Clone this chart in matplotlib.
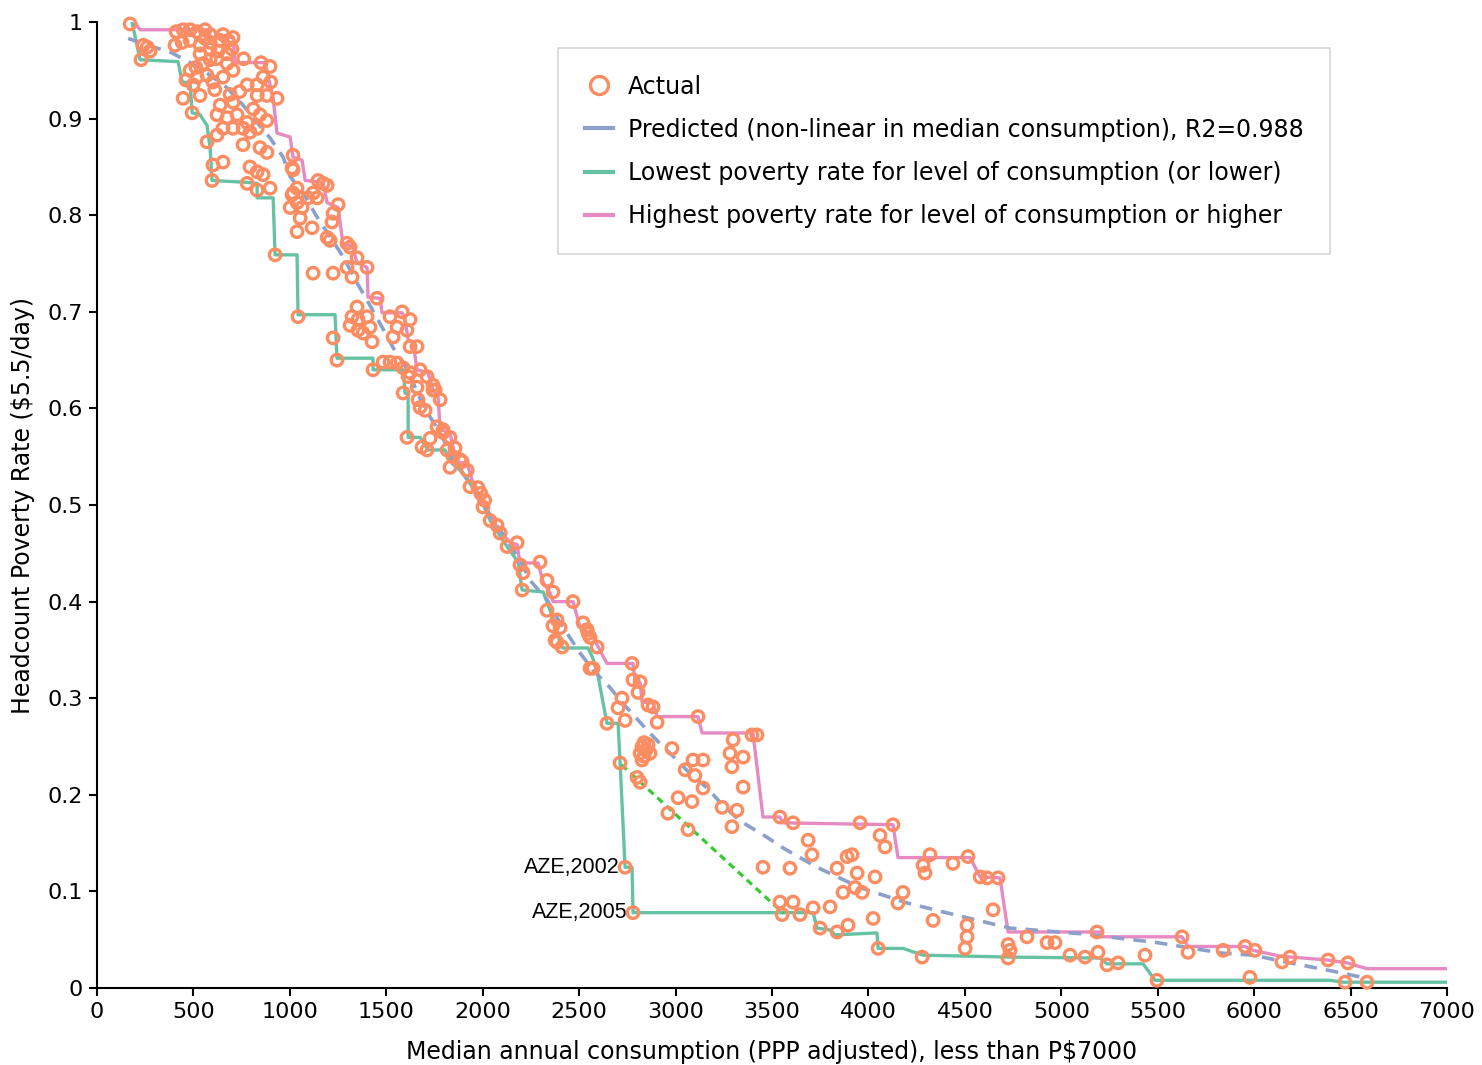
import matplotlib
matplotlib.use('Agg')
import matplotlib.pyplot as plt
from matplotlib.lines import Line2D

plt.rcParams['font.family'] = ['DejaVu Sans']

# actual observations (median consumption, headcount poverty rate)
actual_x = [171, 228, 239, 260, 275,
            410, 446, 482, 519, 560, 586, 653, 705,
            404, 441, 482, 534, 586, 638, 680,
            534, 586, 627, 674, 586, 550, 513, 482,
            850, 897,
            674, 705, 653, 601, 570, 519, 498, 534, 446, 461, 493,
            778, 830, 861, 881, 830, 933,
            638, 622, 705, 674, 726, 653, 705, 757, 778, 793, 830, 845,
            622, 570, 757, 845, 881, 601,
            653, 793, 830, 861,
            596, 778, 830, 897,
            1011, 1016, 1037, 1011, 1037, 1063, 1094,
            1016, 1016, 1001, 1053, 1037, 1115, 1120, 1141, 1172, 1193, 1146, 1224,
            1250, 1218, 1193, 1208, 1296, 1312, 1348, 1296, 1400, 1120, 1224, 1322,
            1452, 1348, 1322, 1312, 1353, 1353, 1400, 1415, 1426, 1379, 1519, 1582,
            1623, 1556, 1607, 1535, 1623, 1659,
            923, 1042, 1224, 1244, 1431, 1483, 1519, 1556, 1587, 1623, 1675, 1711,
            1742, 1659,
            1613, 1587, 1664, 1675, 1701, 1742, 1779, 1607, 1685, 1727, 1794, 1830,
            1815, 1846, 1882, 1830, 1919, 1934, 1975,
            1753, 1763, 1794, 1711, 1856, 1893, 1990, 2010,
            2001, 2038, 2074, 2090, 2126, 2178, 2193, 2209, 2297, 2333, 2364, 2204,
            2333, 2385, 2401, 2375, 2411, 2468, 2520, 2541, 2556, 2593, 2572,
            2364, 2385, 2546, 2556,
            2774, 2779, 2816, 2805, 2857, 2883, 2904, 3116, 2722, 2701, 2738, 2644,
            2816, 2826, 2836, 2846, 2857, 2867, 2836, 2826,
            2981, 3090, 3142, 3049, 3100, 3142, 2712, 2800, 2816, 3013, 3085, 2960,
            3064, 3241, 3318, 3292, 3298, 3282, 3350, 3292, 3350, 3396, 3422,
            2738, 2779,
            3541, 3609, 3687, 3707, 3453, 3593, 3837, 3889, 3868, 3801, 3713, 3609,
            3541, 3552, 3645, 3749, 3837, 3894,
            3915, 3941, 4034, 3930, 3967, 4024, 4050, 3956, 4060, 4086, 4127, 4153,
            4179, 4278, 4319, 4283, 4293, 4438, 4516, 4511, 4511, 4501, 4335, 4579,
            4615, 4672, 4646, 4724, 4734, 4724, 4822, 4926, 4967, 5045, 5123, 5185,
            5190,
            5237, 5294, 5434, 5496, 5626, 5657, 5839, 5953, 6004, 5978, 6144, 6186,
            6383, 6486, 6471, 6585,
            620, 700, 760, 900, 560, 610, 740, 810, 690, 880]
actual_y = [0.998, 0.961, 0.976, 0.974, 0.970,
            0.990, 0.992, 0.992, 0.990, 0.992, 0.987, 0.987, 0.984,
            0.976, 0.979, 0.981, 0.976, 0.979, 0.981, 0.981,
            0.967, 0.972, 0.970, 0.967, 0.961, 0.957, 0.953, 0.950,
            0.958, 0.954,
            0.957, 0.950, 0.943, 0.938, 0.945, 0.943, 0.935, 0.924, 0.921, 0.940, 0.906,
            0.935, 0.935, 0.943, 0.924, 0.924, 0.921,
            0.914, 0.904, 0.917, 0.901, 0.904, 0.890, 0.890, 0.890, 0.896, 0.886, 0.890, 0.904,
            0.883, 0.876, 0.873, 0.870, 0.865, 0.852,
            0.855, 0.850, 0.845, 0.842,
            0.836, 0.833, 0.826, 0.828,
            0.849, 0.862, 0.828, 0.821, 0.813, 0.808, 0.818,
            0.847, 0.823, 0.808, 0.797, 0.783, 0.787, 0.823, 0.818, 0.833, 0.831, 0.836, 0.802,
            0.811, 0.793, 0.777, 0.774, 0.771, 0.767, 0.756, 0.746, 0.746, 0.740, 0.740, 0.736,
            0.714, 0.705, 0.695, 0.686, 0.681, 0.692, 0.695, 0.684, 0.669, 0.678, 0.695, 0.700,
            0.692, 0.684, 0.681, 0.674, 0.664, 0.664,
            0.759, 0.695, 0.673, 0.650, 0.640, 0.648, 0.648, 0.647, 0.642, 0.637, 0.640, 0.633,
            0.624, 0.622,
            0.633, 0.616, 0.609, 0.601, 0.598, 0.619, 0.609, 0.570, 0.560, 0.569, 0.575, 0.570,
            0.557, 0.550, 0.547, 0.539, 0.536, 0.519, 0.518,
            0.619, 0.581, 0.578, 0.557, 0.559, 0.545, 0.512, 0.505,
            0.498, 0.484, 0.479, 0.471, 0.457, 0.461, 0.438, 0.430, 0.441, 0.422, 0.410, 0.412,
            0.391, 0.381, 0.373, 0.360, 0.353, 0.400, 0.378, 0.371, 0.363, 0.353, 0.331,
            0.375, 0.358, 0.367, 0.331,
            0.336, 0.319, 0.317, 0.306, 0.293, 0.291, 0.275, 0.281, 0.300, 0.290, 0.277, 0.274,
            0.243, 0.250, 0.254, 0.246, 0.252, 0.243, 0.240, 0.236,
            0.248, 0.236, 0.236, 0.226, 0.220, 0.207, 0.233, 0.218, 0.213, 0.197, 0.193, 0.181,
            0.164, 0.187, 0.184, 0.167, 0.257, 0.243, 0.239, 0.229, 0.208, 0.262, 0.262,
            0.125, 0.078,
            0.177, 0.171, 0.153, 0.138, 0.125, 0.124, 0.124, 0.136, 0.099, 0.084, 0.083, 0.089,
            0.089, 0.076, 0.076, 0.062, 0.058, 0.065,
            0.138, 0.119, 0.115, 0.104, 0.099, 0.072, 0.041, 0.171, 0.158, 0.146, 0.169, 0.088,
            0.099, 0.032, 0.138, 0.127, 0.119, 0.129, 0.136, 0.065, 0.053, 0.041, 0.070, 0.115,
            0.114, 0.114, 0.081, 0.045, 0.039, 0.031, 0.053, 0.047, 0.047, 0.034, 0.032, 0.058,
            0.037,
            0.024, 0.026, 0.034, 0.008, 0.053, 0.037, 0.039, 0.043, 0.039, 0.011, 0.027, 0.032,
            0.029, 0.026, 0.006, 0.006,
            0.962, 0.972, 0.962, 0.938, 0.983, 0.930, 0.928, 0.910, 0.925, 0.898]

# predicted (non-linear in median consumption)
pred_x = [161, 311, 379, 482, 586, 674, 757, 830, 897, 965, 1001, 1068, 1141,
          1208, 1276, 1348, 1400, 1467, 1535, 1623, 1659, 1727, 1779, 1815, 1846,
          1934, 1986, 2053, 2126, 2193, 2245, 2333, 2401, 2504, 2572, 2660, 2712,
          2852, 2919, 3007, 3075, 3163, 3246, 3334, 3474, 3557, 3733, 3956, 4200,
          4423, 4734, 5113, 5496, 5839, 5994, 6186, 6393, 6585]
pred_y = [0.983, 0.973, 0.969, 0.958, 0.945, 0.932, 0.914, 0.896, 0.880, 0.860,
          0.840, 0.823, 0.798, 0.778, 0.757, 0.730, 0.712, 0.688, 0.663, 0.636,
          0.616, 0.591, 0.575, 0.560, 0.547, 0.523, 0.508, 0.484, 0.464, 0.443,
          0.422, 0.402, 0.378, 0.347, 0.329, 0.311, 0.298, 0.267, 0.253, 0.236,
          0.222, 0.207, 0.189, 0.173, 0.156, 0.145, 0.125, 0.104, 0.088, 0.077,
          0.062, 0.056, 0.047, 0.036, 0.034, 0.026, 0.018, 0.010]

# lowest poverty rate for level of consumption (or lower)
low_x = [181, 223, 420, 441, 482, 493, 534, 570, 586, 596, 778, 830, 830, 913,
         923, 1037, 1042, 1234, 1244, 1431, 1431, 1587, 1597, 1613, 1613, 1675,
         1716, 1804, 1841, 1882, 1986, 2038, 2126, 2183, 2204, 2313, 2349, 2375,
         2401, 2416, 2546, 2567, 2593, 2608, 2644, 2702, 2712, 2738, 2774, 2779,
         3713, 3733, 3801, 3827, 4044, 4050, 4179, 4283, 4734, 5201, 5237, 5424,
         5486, 6393, 6461, 7000]
low_y = [1.0, 0.961, 0.959, 0.938, 0.937, 0.906, 0.904, 0.893, 0.870, 0.836,
         0.834, 0.833, 0.818, 0.818, 0.759, 0.759, 0.697, 0.697, 0.652, 0.652,
         0.640, 0.640, 0.616, 0.614, 0.570, 0.570, 0.557, 0.557, 0.543, 0.536,
         0.508, 0.484, 0.457, 0.441, 0.412, 0.410, 0.391, 0.378, 0.357, 0.352,
         0.352, 0.343, 0.329, 0.312, 0.274, 0.274, 0.233, 0.125, 0.125, 0.078,
         0.078, 0.062, 0.060, 0.055, 0.057, 0.041, 0.041, 0.034, 0.032, 0.031,
         0.025, 0.025, 0.008, 0.008, 0.006, 0.006]

# highest poverty rate for level of consumption or higher
high_x = [197, 223, 570, 576, 705, 716, 871, 913, 933, 1001, 1016, 1063, 1079,
          1172, 1193, 1250, 1276, 1322, 1348, 1400, 1405, 1467, 1478, 1582, 1597,
          1613, 1639, 1659, 1716, 1742, 1768, 1779, 1830, 1846, 1856, 1919, 1944,
          1986, 2074, 2142, 2178, 2193, 2287, 2313, 2349, 2364, 2468, 2504, 2572,
          2644, 2779, 2790, 2816, 2826, 2883, 2904, 3116, 3137, 3401, 3453, 3541,
          3557, 4127, 4153, 4527, 4579, 4682, 4724, 5201, 5201, 5626, 5657, 5953,
          5994, 6134, 6378, 6481, 6585, 7000]
high_y = [0.999, 0.992, 0.992, 0.984, 0.984, 0.958, 0.958, 0.921, 0.885, 0.881,
          0.860, 0.857, 0.836, 0.834, 0.813, 0.808, 0.769, 0.769, 0.751, 0.746,
          0.715, 0.714, 0.699, 0.699, 0.692, 0.671, 0.668, 0.640, 0.637, 0.619,
          0.612, 0.578, 0.575, 0.560, 0.545, 0.543, 0.526, 0.508, 0.477, 0.461,
          0.459, 0.440, 0.440, 0.420, 0.409, 0.400, 0.400, 0.374, 0.363, 0.336,
          0.336, 0.317, 0.316, 0.296, 0.295, 0.281, 0.281, 0.264, 0.264, 0.177,
          0.177, 0.171, 0.169, 0.135, 0.135, 0.115, 0.114, 0.058, 0.058, 0.053,
          0.053, 0.043, 0.043, 0.039, 0.033, 0.029, 0.026, 0.020, 0.020]

# AZE link and labels
aze_link_x = [2720, 3560]
aze_link_y = [0.231, 0.077]
aze_labels = ['AZE,2002', 'AZE,2005']
aze_x = [2738, 2779]
aze_y = [0.125, 0.078]

c_actual = '#fc8d62'
c_pred = '#8da0cb'
c_low = '#66c2a5'
c_high = '#e78ac3'

fig = plt.figure(figsize=(14.82, 10.65), dpi=100)
ax = fig.add_axes([0.0655, 0.0723, 0.9109, 0.9070])

ax.plot(low_x, low_y, color=c_low, lw=2.4, zorder=2)
ax.plot(high_x, high_y, color=c_high, lw=2.4, zorder=2)
ax.plot(pred_x, pred_y, color=c_pred, lw=2.6, dashes=(3.5, 2.5), zorder=3)
ax.plot(aze_link_x, aze_link_y, color='#33cc33', lw=2.3, dashes=(2.2, 1.6), zorder=3)
ax.scatter(actual_x, actual_y, s=68, facecolors='none', edgecolors=c_actual,
           linewidths=2.4, zorder=4, clip_on=False)

for lab, x, y in zip(aze_labels, aze_x, aze_y):
    ax.annotate(lab, (x, y), xytext=(-4, 0), textcoords='offset points',
                ha='right', va='center', fontsize=15.5, family='Liberation Sans')

ax.set_xlim(0, 7000)
ax.set_ylim(0, 1)
ax.set_xticks(range(0, 7001, 500))
ax.set_yticks([i / 10 for i in range(11)])
ax.set_yticklabels(['0'] + ['0.%d' % i for i in range(1, 10)] + ['1'])
ax.tick_params(direction='out', length=6, width=1.5, labelsize=16, pad=4)
for s in ['top', 'right']:
    ax.spines[s].set_visible(False)
for s in ['left', 'bottom']:
    ax.spines[s].set_linewidth(1.5)
ax.set_xlabel('Median annual consumption (PPP adjusted), less than P$7000', fontsize=17, labelpad=13)
ax.set_ylabel('Headcount Poverty Rate ($5.5/day)', fontsize=17, labelpad=9)

handles = [
    Line2D([], [], ls='none', marker='o', ms=13, mfc='none', mec=c_actual, mew=2.4),
    Line2D([], [], color=c_pred, lw=3),
    Line2D([], [], color=c_low, lw=3),
    Line2D([], [], color=c_high, lw=3),
]
labels = ['Actual', 'Predicted (non-linear in median consumption), R2=0.988',
          'Lowest poverty rate for level of consumption (or lower)',
          'Highest poverty rate for level of consumption or higher']
leg = ax.legend(handles, labels, loc='upper left', bbox_to_anchor=(0.3415, 0.973),
                borderaxespad=0, fontsize=17, frameon=True, fancybox=False,
                handlelength=1.2, handletextpad=0.64, labelspacing=0.81,
                borderpad=1.12)
leg.get_frame().set_edgecolor('#cccccc')
leg.get_frame().set_linewidth(1.2)

plt.savefig('out.png', dpi=100)
